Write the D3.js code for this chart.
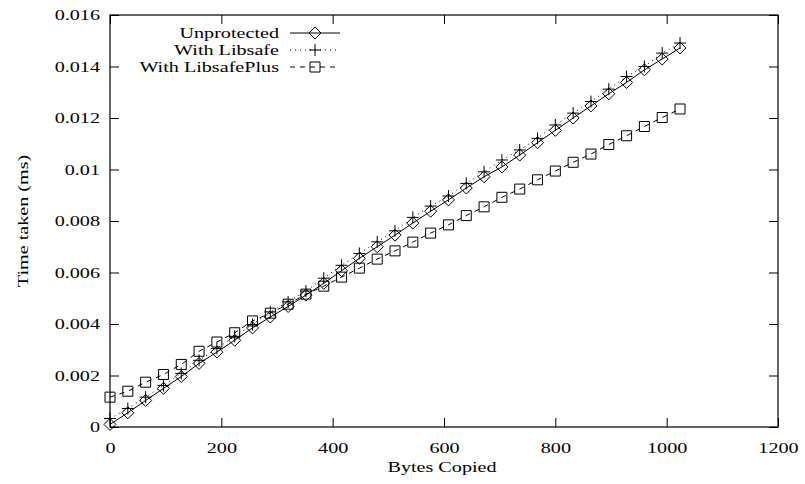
<!DOCTYPE html>
<html>
<head>
<meta charset="utf-8">
<script src="https://cdn.jsdelivr.net/npm/d3@7"></script>
<style>
  body { margin: 0; background: #fff; }
  text { font-family: "Liberation Serif", "DejaVu Serif", serif; font-size: 15.5px; fill: #000; }
</style>
</head>
<body>
<div id="plotdiv"></div>
<script>
// Size of figure
var outerWidth = 805;
var outerHeight = 484;
var margin = { left: 110, top: 15, right: 27, bottom: 57 };
var innerWidth  = outerWidth  - margin.left - margin.right;
var innerHeight = outerHeight - margin.top  - margin.bottom;
// Text in the picture is drawn wider than usual
var textStretch = 1.3;

// Data
var bytes = [0, 32, 64, 96, 128, 160, 192, 224, 256, 288, 320, 352, 384, 416, 448, 480, 512,
  544, 576, 608, 640, 672, 704, 736, 768, 800, 832, 864, 896, 928, 960, 992, 1024];
var unprotected = [0.0001, 0.00055, 0.00103, 0.0015, 0.00196, 0.00247, 0.00291, 0.00337, 0.00385,
  0.00427, 0.00468, 0.00512, 0.00558, 0.00607, 0.00655, 0.007, 0.00745, 0.00792, 0.00838, 0.00882,
  0.00928, 0.00972, 0.0101, 0.01056, 0.01104, 0.01152, 0.012, 0.01247, 0.01294, 0.01338, 0.01387,
  0.01429, 0.01472];
var libsafe = [0.00033, 0.00072, 0.00116, 0.00161, 0.00208, 0.00259, 0.00305, 0.00352, 0.00398,
  0.00447, 0.00486, 0.00528, 0.00578, 0.00628, 0.00674, 0.00719, 0.00762, 0.00814, 0.00858, 0.00897,
  0.00946, 0.00991, 0.01037, 0.01076, 0.01121, 0.01173, 0.01219, 0.01264, 0.01312, 0.01361, 0.014,
  0.01452, 0.01491];
var libsafePlus = [0.00116, 0.00139, 0.00174, 0.00204, 0.00243, 0.00294, 0.0033, 0.00366, 0.00412,
  0.00442, 0.00477, 0.00516, 0.00547, 0.00582, 0.00617, 0.00652, 0.00684, 0.00718, 0.00753, 0.00785,
  0.00821, 0.00855, 0.00892, 0.00924, 0.0096, 0.00994, 0.01028, 0.0106, 0.01097, 0.01131, 0.01167,
  0.01202, 0.01235];

var seriesNames = ["Unprotected", "With Libsafe", "With LibsafePlus"];
var seriesValues = [unprotected, libsafe, libsafePlus];
var seriesDash = [null, "1,4", "5,5"];
var seriesMarker = ["diamond", "plus", "square"];

var ticksX = [0, 200, 400, 600, 800, 1000, 1200];
var ticksY = [0, 0.002, 0.004, 0.006, 0.008, 0.01, 0.012, 0.014, 0.016];

var vis = d3.select("#plotdiv").append("svg")
  .attr("width", outerWidth)
  .attr("height", outerHeight);

var g = vis.append("g")
  .attr("transform", "translate(" + margin.left + "," + margin.top + ")");

var xScale = d3.scaleLinear().domain([0, 1200]).range([0, innerWidth]);
var yScale = d3.scaleLinear().domain([0, 0.016]).range([innerHeight, 0]);

var fmtY = function(d){ return String(+d.toFixed(3)); };

// Move x/y of a text into a transform so it can be stretched sideways
function stretchText(sel, extra) {
  sel.each(function(){
    var t = d3.select(this);
    var x = +t.attr("x") || 0, y = +t.attr("y") || 0;
    t.attr("x", 0).attr("y", 0)
      .attr("transform", "translate(" + x + "," + y + ")" + (extra || "") + " scale(" + textStretch + ",1)");
  });
}

// Axes - gnuplot style ticks pointing inwards on all four sides
var tickLen = 9;
var axisB = d3.axisBottom(xScale).tickValues(ticksX).tickSize(-tickLen).tickPadding(15).tickFormat(d3.format("d")).tickSizeOuter(0);
var axisT = d3.axisTop(xScale).tickValues(ticksX).tickSize(-tickLen).tickFormat("").tickSizeOuter(0);
var axisL = d3.axisLeft(yScale).tickValues(ticksY).tickSize(-tickLen).tickPadding(10).tickFormat(fmtY).tickSizeOuter(0);
var axisR = d3.axisRight(yScale).tickValues(ticksY).tickSize(-tickLen).tickFormat("").tickSizeOuter(0);

g.append("g").attr("transform", "translate(0," + innerHeight + ")").call(axisB);
g.append("g").call(axisT);
g.append("g").call(axisL);
g.append("g").attr("transform", "translate(" + innerWidth + ",0)").call(axisR);
g.selectAll(".domain").remove();
g.selectAll(".tick line").attr("stroke", "#000");
g.selectAll(".tick text").attr("font-size", null).attr("font-family", null);
stretchText(g.selectAll(".tick text"));

// Frame
g.append("rect")
  .attr("width", innerWidth).attr("height", innerHeight)
  .attr("fill", "none").attr("stroke", "#000").attr("stroke-width", 1.2);

// Axis labels
vis.append("text")
  .attr("x", margin.left + innerWidth / 2 - 2).attr("y", 472)
  .attr("text-anchor", "middle").text("Bytes Copied")
  .call(stretchText);
vis.append("text")
  .attr("x", 28).attr("y", 221)
  .attr("text-anchor", "middle").text("Time taken (ms)")
  .call(stretchText, " rotate(-90)");

// Marker drawing
function drawMarker(sel, type) {
  if (type === "diamond") {
    sel.append("path").attr("d", "M0,-6L6,0L0,6L-6,0Z");
  } else if (type === "square") {
    sel.append("path").attr("d", "M-5,-5H5V5H-5Z");
  } else {
    sel.append("path").attr("d", "M-6,0H6M0,-6V6");
  }
  sel.selectAll("path").attr("fill", "none").attr("stroke", "#000").attr("stroke-width", 1);
}

var line = d3.line()
  .x(function(d, i){ return xScale(bytes[i]); })
  .y(function(d){ return yScale(d); });

seriesValues.forEach(function(vals, s) {
  g.append("path")
    .datum(vals)
    .attr("d", line)
    .attr("fill", "none")
    .attr("stroke", "#000")
    .attr("stroke-width", 1)
    .attr("stroke-dasharray", seriesDash[s]);
  g.selectAll(".m" + s).data(vals).enter().append("g")
    .attr("class", "m" + s)
    .attr("transform", function(d, i){ return "translate(" + xScale(bytes[i]) + "," + yScale(d) + ")"; })
    .each(function(){ drawMarker(d3.select(this), seriesMarker[s]); });
});

// Legend
var gLegend = vis.append("g");
seriesNames.forEach(function(name, s) {
  var yRow = 33 + s * 17;
  gLegend.append("text")
    .attr("x", 279).attr("y", yRow + 5)
    .attr("text-anchor", "end").text(name)
    .call(stretchText);
  gLegend.append("line")
    .attr("x1", 290).attr("x2", 340).attr("y1", yRow).attr("y2", yRow)
    .attr("stroke", "#000").attr("stroke-dasharray", seriesDash[s]);
  var m = gLegend.append("g").attr("transform", "translate(315," + yRow + ")");
  drawMarker(m, seriesMarker[s]);
});
</script>
</body>
</html>
